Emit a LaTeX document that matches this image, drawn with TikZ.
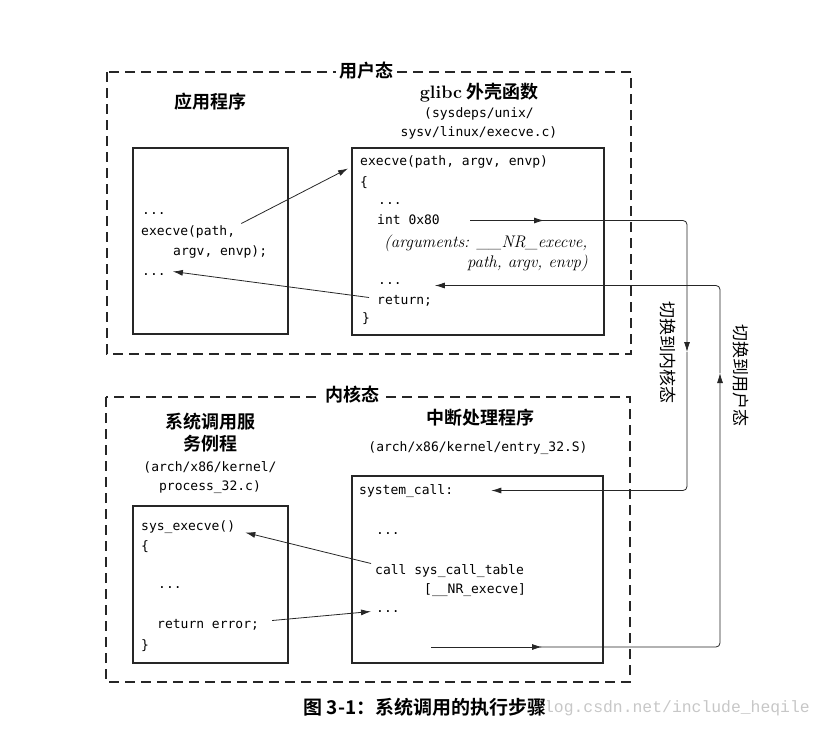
\documentclass[tikz,border=0pt]{standalone}
\usepackage{fontspec}
\setmonofont{DejaVu Sans Mono}
\newfontfamily\cjk{Noto Sans CJK SC}[BoldFont={Noto Sans CJK SC Bold}]
\newfontfamily\wmfont{Liberation Mono}
\usetikzlibrary{arrows.meta}

\begin{document}
\begin{tikzpicture}[x=1pt,y=-1pt,
    code/.style={anchor=base west,inner sep=0pt,text height=10pt,text depth=3pt,font=\fontsize{13}{16}\ttfamily},
    argtext/.style={anchor=base west,inner sep=0pt,text height=10pt,text depth=3pt,font=\fontsize{16.8}{18}\rmfamily\itshape},
    head/.style={inner sep=0pt,font=\fontsize{18}{20}\cjk\bfseries},
    srcpath/.style={inner sep=0pt,font=\fontsize{13}{16}\ttfamily},
    modebox/.style={draw=black!85,line width=1.4pt,dash pattern=on 10pt off 6pt},
    modelabel/.style={fill=white,inner sep=3pt,font=\fontsize{18}{20}\cjk\bfseries},
    codebox/.style={draw=black!85,line width=1.3pt},
    flow/.style={draw=black!85,line width=0.8pt,-{Latex[length=10pt,width=6pt]}},
    modeswitch/.style={inner sep=0pt,rotate=-90,font=\fontsize{17}{18}\cjk}]
    \useasboundingbox (0,0) rectangle (829,731);

    % user mode
    \draw[modebox] (107,72) rectangle (631,354);
    \node[modelabel] (user) at (366,71) {用户态};
    \node[head] (app) at (210,102) {应用程序};
    \node[head] (glibc) at (479,93) {{\rmfamily\bfseries glibc} 外壳函数};
    \node[srcpath] (gsrc1) at (479,114) {(sysdeps/unix/};
    \node[srcpath] (gsrc2) at (479,133) {sysv/linux/execve.c)};
    \draw[codebox] (133,148) rectangle (288,334);
    \draw[codebox] (352,148) rectangle (604,335);

    \node[code] (adots1) at (142,214) {...};
    \node[code] (aexec1) at (141,235) {execve(path,};
    \node[code] (aexec2) at (173,255) {argv, envp);};
    \node[code] (adots2) at (142,275) {...};

    \node[code] (gexec) at (360,165) {execve(path, argv, envp)};
    \node[code] (gopen) at (360,186) {\{};
    \node[code] (gdots1) at (378,204) {...};
    \node[code] (gint) at (377,224) {int 0x80};
    \node[argtext] (garg1) at (384,247) {(arguments: \_\_NR\_execve,};
    \node[argtext,anchor=base east] (garg2) at (588,267) {path, argv, envp)};
    \node[code] (gdots2) at (378,284) {...};
    \node[code] (gret) at (377,304) {return;};
    \node[code] (gclose) at (362,322) {\}};

    % kernel mode
    \draw[modebox] (106,397) rectangle (630,682);
    \node[modelabel] (kernel) at (352,395) {内核态};
    \node[head] (svc1) at (210,422) {系统调用服};
    \node[head] (svc2) at (210,444) {务例程};
    \node[srcpath] (ksrc1) at (210,467) {(arch/x86/kernel/};
    \node[srcpath] (ksrc2) at (210,487) {process\_32.c)};
    \node[head] (isr) at (480,418) {中断处理程序};
    \node[srcpath] (isrc) at (478,448) {(arch/x86/kernel/entry\_32.S)};
    \draw[codebox] (133,506) rectangle (288,663);
    \draw[codebox] (352,476) rectangle (603,663);

    \node[code] (ksys) at (141,530) {sys\_execve()};
    \node[code] (kopen) at (141,550) {\{};
    \node[code] (kdots1) at (158,588) {...};
    \node[code] (kerr) at (157,628) {return error;};
    \node[code] (kclose) at (141,649) {\}};

    \node[code] (isys) at (359,494) {system\_call:};
    \node[code] (idots1) at (376,534) {...};
    \node[code] (icall) at (375,574) {call sys\_call\_table};
    \node[code] (inr) at (424,593) {[\_\_NR\_execve]};
    \node[code] (idots2) at (376,612) {...};

    % calls inside each mode
    \draw[flow] ([xshift=6pt,yshift=8pt]aexec1.east) -- ([xshift=-12pt,yshift=-7pt]gexec.west);
    \draw[flow] ([xshift=-8pt,yshift=3pt]gret.west) -- ([xshift=7pt]adots2.east);
    \draw[flow] ([xshift=-4pt,yshift=7pt]icall.west) -- ([xshift=10pt,yshift=-6pt]ksys.east);
    \draw[flow] ([xshift=13pt,yshift=4pt]kerr.east) -- ([xshift=-5pt,yshift=-3pt]idots2.west);

    % mode switches
    \coordinate (trap) at ([xshift=30pt]gint.east);
    \coordinate (down) at (687,352);
    \coordinate (kret) at (431,647);
    \coordinate (up) at (720,373);
    \draw[flow] (trap) -- ([xshift=74pt]trap);
    \draw[flow,rounded corners=4pt] ([xshift=72pt]trap) -| (down);
    \draw[flow,rounded corners=4pt] (down) |- ([xshift=38pt]isys.east);
    \draw[flow] (kret) -- ([xshift=111pt]kret);
    \draw[flow,rounded corners=4pt] ([xshift=109pt]kret) -| (up);
    \draw[flow,rounded corners=4pt] (up) |- ([xshift=33pt,yshift=-5pt]gdots2.east);
    \node[modeswitch] (tokernel) at (668,352) {切换到内核态};
    \node[modeswitch] (touser) at (741,375) {切换到用户态};

    % caption
    \node[anchor=east,inner sep=0pt,text=black!22,font=\fontsize{16.4}{18}\wmfont] (mark) at (810,708) {blog.csdn.net/include\_heqile};
    \node[fill=white,inner sep=1pt,font=\fontsize{19}{22}\cjk\bfseries] (caption) at (425,707) {图 3-1：系统调用的执行步骤};
\end{tikzpicture}
\end{document}
